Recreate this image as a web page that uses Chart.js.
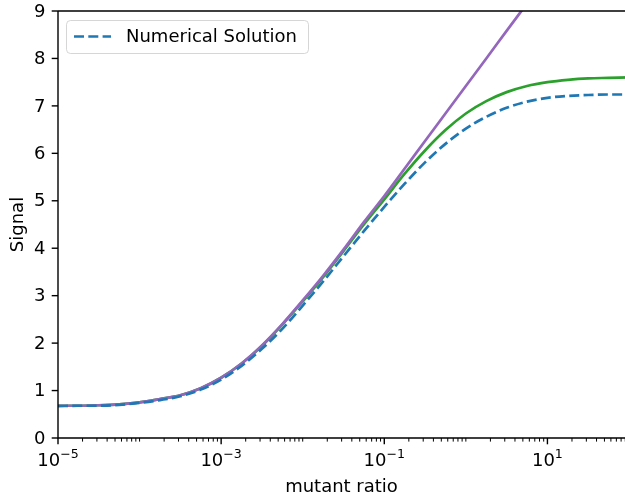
<!DOCTYPE html>
<html>
<head>
<meta charset="utf-8">
<title>Signal vs mutant ratio</title>
<script src="https://cdn.jsdelivr.net/npm/chart.js@4.4.1/dist/chart.umd.min.js"></script>
<style>
  html, body { margin: 0; padding: 0; background: #fff; overflow: hidden; }
  #wrap { width: 625px; height: 495px; overflow: hidden; }
</style>
</head>
<body>
<div id="wrap"><canvas id="signalChart" width="629" height="495"></canvas></div>
<script>
// mutant ratio, quarter-decade steps from 1e-5 to 1e2
const ratio = [
  1e-5, 1.78e-5, 3.16e-5, 5.62e-5,
  1e-4, 1.78e-4, 3.16e-4, 5.62e-4,
  1e-3, 1.78e-3, 3.16e-3, 5.62e-3,
  1e-2, 1.78e-2, 3.16e-2, 5.62e-2,
  0.1, 0.178, 0.316, 0.562,
  1, 1.78, 3.16, 5.62,
  10, 17.8, 31.6, 56.2,
  100
];

// numerical solution (dashed blue)
const numerical = [
  0.67, 0.68, 0.68, 0.70,
  0.74, 0.80, 0.88, 1.02,
  1.23, 1.52, 1.88, 2.30,
  2.79, 3.30, 3.83, 4.36,
  4.87, 5.36, 5.81, 6.20,
  6.52, 6.77, 6.96, 7.09,
  7.17, 7.21, 7.23, 7.24,
  7.24
];

// saturating approximation (green)
const saturating = [
  0.68, 0.68, 0.69, 0.71,
  0.75, 0.82, 0.90, 1.05,
  1.27, 1.57, 1.94, 2.39,
  2.88, 3.39, 3.94, 4.50,
  5.03, 5.57, 6.06, 6.49,
  6.84, 7.10, 7.29, 7.42,
  7.50, 7.55, 7.58, 7.59,
  7.60
];

// unbounded log approximation (purple), leaves the top of the plot
const logLimit = [
  0.68, 0.68, 0.69, 0.71,
  0.75, 0.82, 0.90, 1.05,
  1.27, 1.57, 1.95, 2.40,
  2.90, 3.42, 3.97, 4.55,
  5.10, 5.68, 6.26, 6.84,
  7.42, 8.00, 8.58, 9.16,
  null, null, null, null,
  null
];

const yTicks = [0, 1, 2, 3, 4, 5, 6, 7, 8, 9];
const xMajorExp = [-5, -3, -1, 1];

const FONT = '"DejaVu Sans", sans-serif';
const BLUE = '#1f77b4';
const GREEN = '#2ca02c';
const PURPLE = '#9467bd';

// spines, ticks, tick labels, axis titles and the legend box
const axisDecor = {
  id: 'axisDecor',
  afterDraw(chart) {
    const ctx = chart.ctx;
    const a = chart.chartArea;
    const xs = chart.scales.x;
    const ys = chart.scales.y;
    ctx.save();
    ctx.strokeStyle = '#000';
    ctx.fillStyle = '#000';

    ctx.lineWidth = 1.4;
    ctx.beginPath();
    ctx.moveTo(a.left, a.top);
    ctx.lineTo(a.right, a.top);
    ctx.moveTo(a.left, a.top);
    ctx.lineTo(a.left, a.bottom);
    ctx.lineTo(a.right, a.bottom);
    ctx.stroke();

    // x ticks: every 1..9 x 10^n, long ones on labelled decades
    for (let n = -5; n <= 1; n++) {
      for (let k = 1; k <= 9; k++) {
        const v = k * Math.pow(10, n);
        if (v > xs.max) continue;
        const px = xs.getPixelForValue(v);
        const major = k === 1 && xMajorExp.includes(n);
        ctx.lineWidth = major ? 1.4 : 1.0;
        ctx.beginPath();
        ctx.moveTo(px, a.bottom);
        ctx.lineTo(px, a.bottom + (major ? 6.3 : 3.6));
        ctx.stroke();
      }
    }
    xMajorExp.forEach(function(e) {
      const px = xs.getPixelForValue(Math.pow(10, e));
      const base = '10';
      const sup = (e < 0 ? '\u2212' : '') + Math.abs(e);
      ctx.font = '18px ' + FONT;
      const wb = ctx.measureText(base).width;
      ctx.font = '12.6px ' + FONT;
      const ws = ctx.measureText(sup).width;
      const x0 = px - (wb + ws) / 2;
      ctx.textAlign = 'left';
      ctx.textBaseline = 'alphabetic';
      ctx.font = '18px ' + FONT;
      ctx.fillText(base, x0, 466);
      ctx.font = '12.6px ' + FONT;
      ctx.fillText(sup, x0 + wb, 457.5);
    });

    // y ticks
    ctx.font = '18px ' + FONT;
    ctx.textAlign = 'right';
    ctx.textBaseline = 'middle';
    yTicks.forEach(function(t) {
      const py = ys.getPixelForValue(t);
      ctx.lineWidth = 1.4;
      ctx.beginPath();
      ctx.moveTo(a.left, py);
      ctx.lineTo(a.left - 6.3, py);
      ctx.stroke();
      ctx.fillText(String(t), a.left - 12.6, py + 1);
    });

    // axis titles
    ctx.textAlign = 'center';
    ctx.textBaseline = 'alphabetic';
    ctx.fillText('mutant ratio', (a.left + 625) / 2, 492);
    ctx.save();
    ctx.translate(22.5, (a.top + a.bottom) / 2);
    ctx.rotate(-Math.PI / 2);
    ctx.fillText('Signal', 0, 0);
    ctx.restore();

    // legend
    ctx.beginPath();
    ctx.roundRect(66.5, 20.5, 242, 33, 4);
    ctx.fillStyle = 'rgba(255,255,255,0.8)';
    ctx.fill();
    ctx.strokeStyle = 'rgba(204,204,204,0.8)';
    ctx.lineWidth = 1;
    ctx.stroke();
    ctx.strokeStyle = BLUE;
    ctx.lineWidth = 2.7;
    ctx.setLineDash([10, 4.3]);
    ctx.beginPath();
    ctx.moveTo(74, 36.5);
    ctx.lineTo(111, 36.5);
    ctx.stroke();
    ctx.setLineDash([]);
    ctx.fillStyle = '#000';
    ctx.textAlign = 'left';
    ctx.textBaseline = 'middle';
    ctx.fillText(chart.data.datasets[0].label, 126, 37);
    ctx.restore();
  }
};

const ctx = document.getElementById('signalChart').getContext('2d');
const signalChart = new Chart(ctx, {
  type: 'line',
  data: {
    labels: ratio,
    datasets: [
      {
        label: 'Numerical Solution',
        data: numerical,
        borderColor: BLUE,
        borderWidth: 2.7,
        borderDash: [10, 4.3],
        pointRadius: 0,
        cubicInterpolationMode: 'monotone',
        fill: false
      },
      {
        label: 'log limit',
        data: logLimit,
        borderColor: PURPLE,
        borderWidth: 2.7,
        pointRadius: 0,
        cubicInterpolationMode: 'monotone',
        fill: false
      },
      {
        label: 'saturating',
        data: saturating,
        borderColor: GREEN,
        borderWidth: 2.7,
        pointRadius: 0,
        cubicInterpolationMode: 'monotone',
        fill: false
      }
    ]
  },
  options: {
    responsive: false,
    animation: false,
    devicePixelRatio: 1,
    layout: { padding: { top: 11, right: 0, left: 0, bottom: 0 } },
    plugins: {
      legend: { display: false },
      tooltip: { enabled: false }
    },
    scales: {
      x: {
        type: 'logarithmic',
        min: 1e-5,
        max: 100,
        grid: { display: false },
        border: { display: false },
        ticks: { display: false },
        afterFit: function(scale) { scale.height = 57; }
      },
      y: {
        min: 0,
        max: 9,
        grid: { display: false },
        border: { display: false },
        ticks: { display: false },
        afterFit: function(scale) { scale.width = 58; }
      }
    }
  },
  plugins: [axisDecor]
});
</script>
</body>
</html>
